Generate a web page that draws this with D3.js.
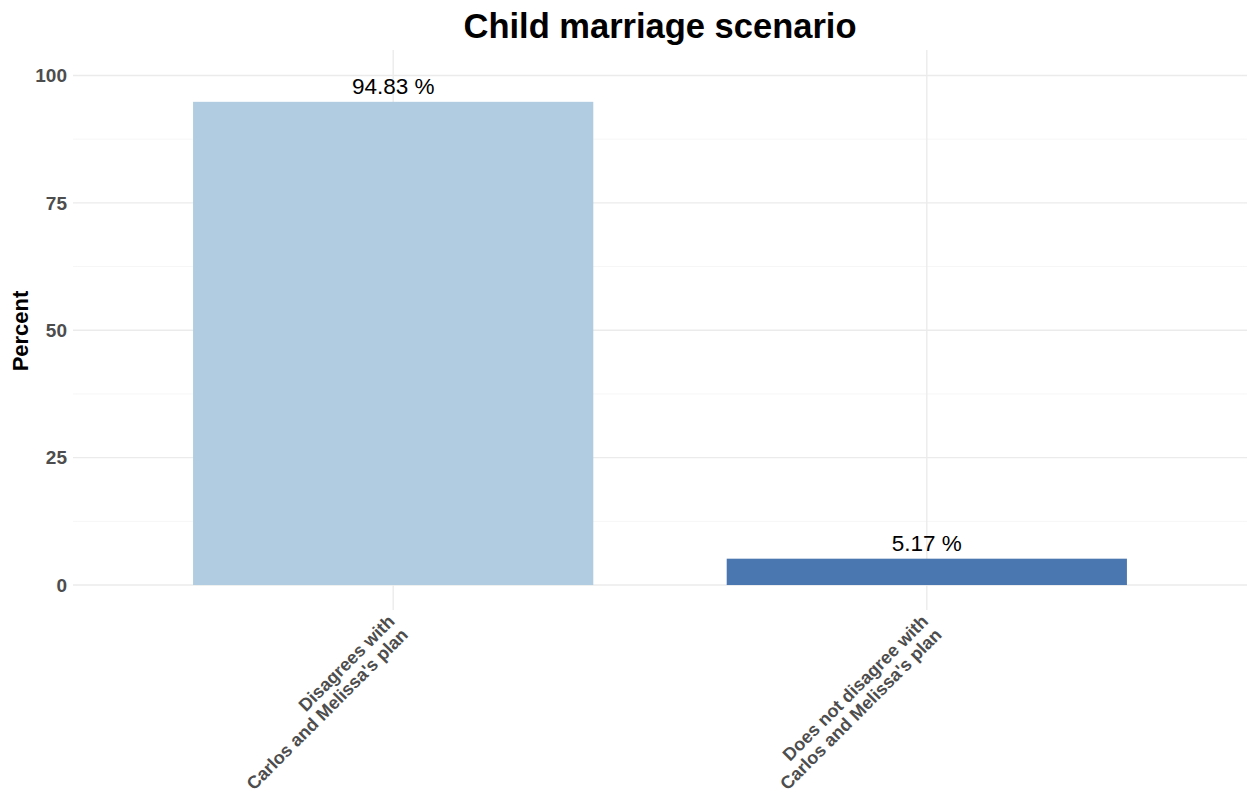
<!DOCTYPE html>
<html><head><meta charset="utf-8">
<script src="https://cdn.jsdelivr.net/npm/d3@7"></script>
<style>body{margin:0;background:#fff;} text{font-family:"Liberation Sans",Arial,Helvetica,sans-serif;}</style>
</head><body>
<svg id="chart" width="1254" height="799"></svg>
<script>
const categories = ["Disagrees with\nCarlos and Melissa's plan", "Does not disagree with\nCarlos and Melissa's plan"];
const values = [94.83, 5.17];
const labels = ["94.83 %", "5.17 %"];
const colors = ["#b1cce1", "#4a77b0"];
const yTicks = [0, 25, 50, 75, 100];
const yMinor = [12.5, 37.5, 62.5, 87.5];

const svg = d3.select("#chart");
const panel = {left: 73, right: 1247, top: 50, bottom: 610};

const y = d3.scaleLinear().domain([-4.9, 105]).range([panel.bottom, panel.top]);
const xi = d3.scaleLinear().domain([0.4, categories.length + 0.6]).range([panel.left, panel.right]);
const x = (i) => xi(i + 1);
const barW = xi(0.75) - xi(0);

svg.append("g").selectAll("line").data(yMinor).join("line")
  .attr("x1", panel.left).attr("x2", panel.right)
  .attr("y1", d => y(d)).attr("y2", d => y(d))
  .attr("stroke", "#f6f6f6").attr("stroke-width", 1);
svg.append("g").selectAll("line").data(yTicks).join("line")
  .attr("x1", panel.left).attr("x2", panel.right)
  .attr("y1", d => y(d)).attr("y2", d => y(d))
  .attr("stroke", "#ebebeb").attr("stroke-width", 1.4);
svg.append("g").selectAll("line").data(categories).join("line")
  .attr("x1", (d, i) => x(i)).attr("x2", (d, i) => x(i))
  .attr("y1", panel.top).attr("y2", panel.bottom)
  .attr("stroke", "#ebebeb").attr("stroke-width", 1.4);

svg.append("g").selectAll("rect").data(values).join("rect")
  .attr("x", (d, i) => x(i) - barW / 2)
  .attr("width", barW)
  .attr("y", d => y(d))
  .attr("height", d => y(0) - y(d))
  .attr("fill", (d, i) => colors[i]);

svg.append("g").selectAll("text").data(values).join("text")
  .attr("x", (d, i) => x(i))
  .attr("y", d => y(d) - 7.5)
  .attr("text-anchor", "middle")
  .attr("font-size", 22.5)
  .attr("fill", "#000")
  .text((d, i) => labels[i]);

svg.append("g").selectAll("text").data(yTicks).join("text")
  .attr("x", 67)
  .attr("y", d => y(d))
  .attr("dy", "0.36em")
  .attr("text-anchor", "end")
  .attr("font-size", 19)
  .attr("font-weight", "bold")
  .attr("fill", "#4d4d4d")
  .text(d => d);

const xl = svg.append("g").selectAll("text").data(categories).join("text")
  .attr("transform", (d, i) => `translate(${x(i) - 7},${panel.bottom + 3}) rotate(-45)`)
  .attr("text-anchor", "end")
  .attr("font-size", 18)
  .attr("font-weight", "bold")
  .attr("fill", "#4d4d4d");
xl.each(function(d) {
  const lines = d.split("\n");
  d3.select(this).selectAll("tspan").data(lines).join("tspan")
    .attr("x", 0)
    .attr("dy", (l, j) => j === 0 ? "0.75em" : "1.05em")
    .text(l => l);
});

svg.append("text")
  .attr("transform", `translate(20,${(panel.top + panel.bottom) / 2 + 1}) rotate(-90)`)
  .attr("text-anchor", "middle")
  .attr("dy", "0.35em")
  .attr("font-size", 22)
  .attr("font-weight", "bold")
  .attr("fill", "#000")
  .text("Percent");

svg.append("text")
  .attr("x", (panel.left + panel.right) / 2)
  .attr("y", 38)
  .attr("text-anchor", "middle")
  .attr("font-size", 34.5)
  .attr("font-weight", "bold")
  .attr("fill", "#000")
  .text("Child marriage scenario");
</script>
</body></html>
